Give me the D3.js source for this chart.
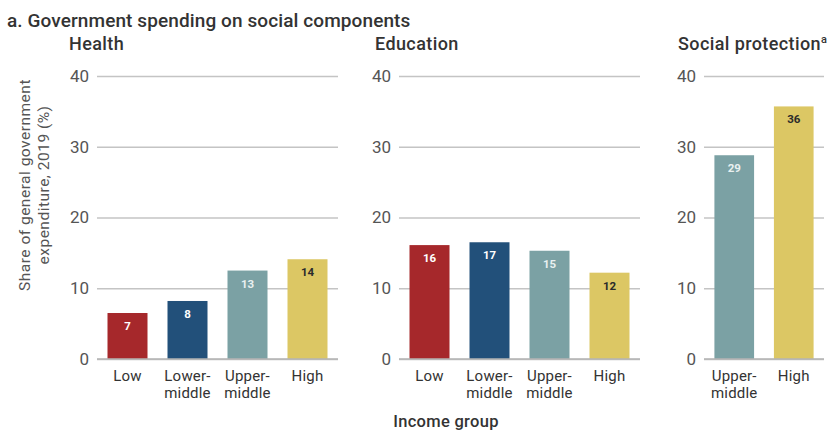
<!DOCTYPE html>
<html><head><meta charset="utf-8">
<script src="https://cdn.jsdelivr.net/npm/d3@7"></script>
<style>body{margin:0;background:#fff}svg{display:block}text{font-family:Roboto,"DejaVu Sans",sans-serif}</style>
</head><body><svg id="c" width="838" height="430"></svg>
<script>
const healthCats = ["Low","Lower-middle","Upper-middle","High"];
const healthValues = [6.5, 8.2, 12.5, 14.1];
const healthLabels = ["7","8","13","14"];
const eduCats = ["Low","Lower-middle","Upper-middle","High"];
const eduValues = [16.1, 16.5, 15.3, 12.2];
const eduLabels = ["16","17","15","12"];
const spCats = ["Upper-middle","High"];
const spValues = [28.8, 35.7];
const spLabels = ["29","36"];
const yTicks = [0,10,20,30,40];
const colorMap = {"Low":"#a6282b","Lower-middle":"#22507a","Upper-middle":"#7ba1a4","High":"#dcc764"};
const labelColor = {"Low":"#fff","Lower-middle":"#fff","Upper-middle":"#e8f0f0","High":"#2b2b2b"};
const xLines = {"Low":["Low"],"Lower-middle":["Lower-","middle"],"Upper-middle":["Upper-","middle"],"High":["High"]};

const svg = d3.select("#c");
const y = d3.scaleLinear().domain([0,40]).range([359,76]);

svg.append("text").attr("x",7).attr("y",27).attr("font-size",19).attr("font-weight",500)
  .attr("letter-spacing",0.1).attr("fill","#333").text("a. Government spending on social components");

const panels = [
  {title:"Health", cats:healthCats, vals:healthValues, labs:healthLabels, x0:97, x1:338, tx:69},
  {title:"Education", cats:eduCats, vals:eduValues, labs:eduLabels, x0:399, x1:640, tx:375},
  {title:"Social protection", sup:"a", cats:spCats, vals:spValues, labs:spLabels, x0:704, x1:824, tx:678}
];

panels.forEach(p=>{
  const g = svg.append("g");
  const x = d3.scaleBand().domain(p.cats).range([p.x0,p.x1]).paddingInner(1/3).paddingOuter(0.175);
  const t = g.append("text").attr("x",p.tx).attr("y",50).attr("font-size",18).attr("font-weight",500)
    .attr("letter-spacing",0.4).attr("fill","#333").text(p.title);
  if(p.sup) t.append("tspan").attr("font-size",11).attr("dy",-7).text(p.sup);
  const ax = d3.axisLeft(y).tickValues(yTicks).tickSize(-(p.x1-p.x0)).tickPadding(8);
  const ag = g.append("g").attr("transform",`translate(${p.x0},0)`).call(ax);
  ag.select(".domain").remove();
  ag.selectAll(".tick line").attr("stroke","#c4c4c4").attr("stroke-width",1.5);
  ag.selectAll(".tick text").attr("font-size",17).attr("fill","#555").attr("font-family","Roboto, sans-serif");
  const data = p.cats.map((c,i)=>({c, v:p.vals[i], l:p.labs[i]}));
  g.selectAll("rect.bar").data(data).join("rect").attr("class","bar")
    .attr("x",d=>x(d.c)).attr("width",x.bandwidth())
    .attr("y",d=>y(d.v)).attr("height",d=>y(0)-y(d.v)).attr("fill",d=>colorMap[d.c]);
  g.selectAll("text.val").data(data).join("text").attr("class","val")
    .attr("x",d=>x(d.c)+x.bandwidth()/2).attr("y",d=>y(d.v)+17)
    .attr("text-anchor","middle").attr("font-size",11.5).attr("font-weight",700)
    .attr("fill",d=>labelColor[d.c]).text(d=>d.l);
  g.append("line").attr("x1",p.x0).attr("x2",p.x1).attr("y1",y(0)).attr("y2",y(0)).attr("stroke","#b5b5b5").attr("stroke-width",1.5);
  data.forEach(d=>{
    xLines[d.c].forEach((ln,i)=>{
      g.append("text").attr("x",x(d.c)+x.bandwidth()/2).attr("y",381+i*16.5)
        .attr("text-anchor","middle").attr("font-size",15).attr("letter-spacing",0.2).attr("fill","#333").text(ln);
    });
  });
});

const yt = svg.append("text").attr("transform","translate(30,185) rotate(-90)")
  .attr("text-anchor","middle").attr("font-size",15.5).attr("letter-spacing",0.5).attr("fill","#555");
yt.append("tspan").attr("x",0).attr("y",0).text("Share of general government");
yt.append("tspan").attr("x",0).attr("y",19).text("expenditure, 2019 (%)");

svg.append("text").attr("x",446).attr("y",427).attr("text-anchor","middle").attr("font-size",16.5)
  .attr("font-weight",500).attr("letter-spacing",0.3).attr("fill","#333").text("Income group");
</script></body></html>
